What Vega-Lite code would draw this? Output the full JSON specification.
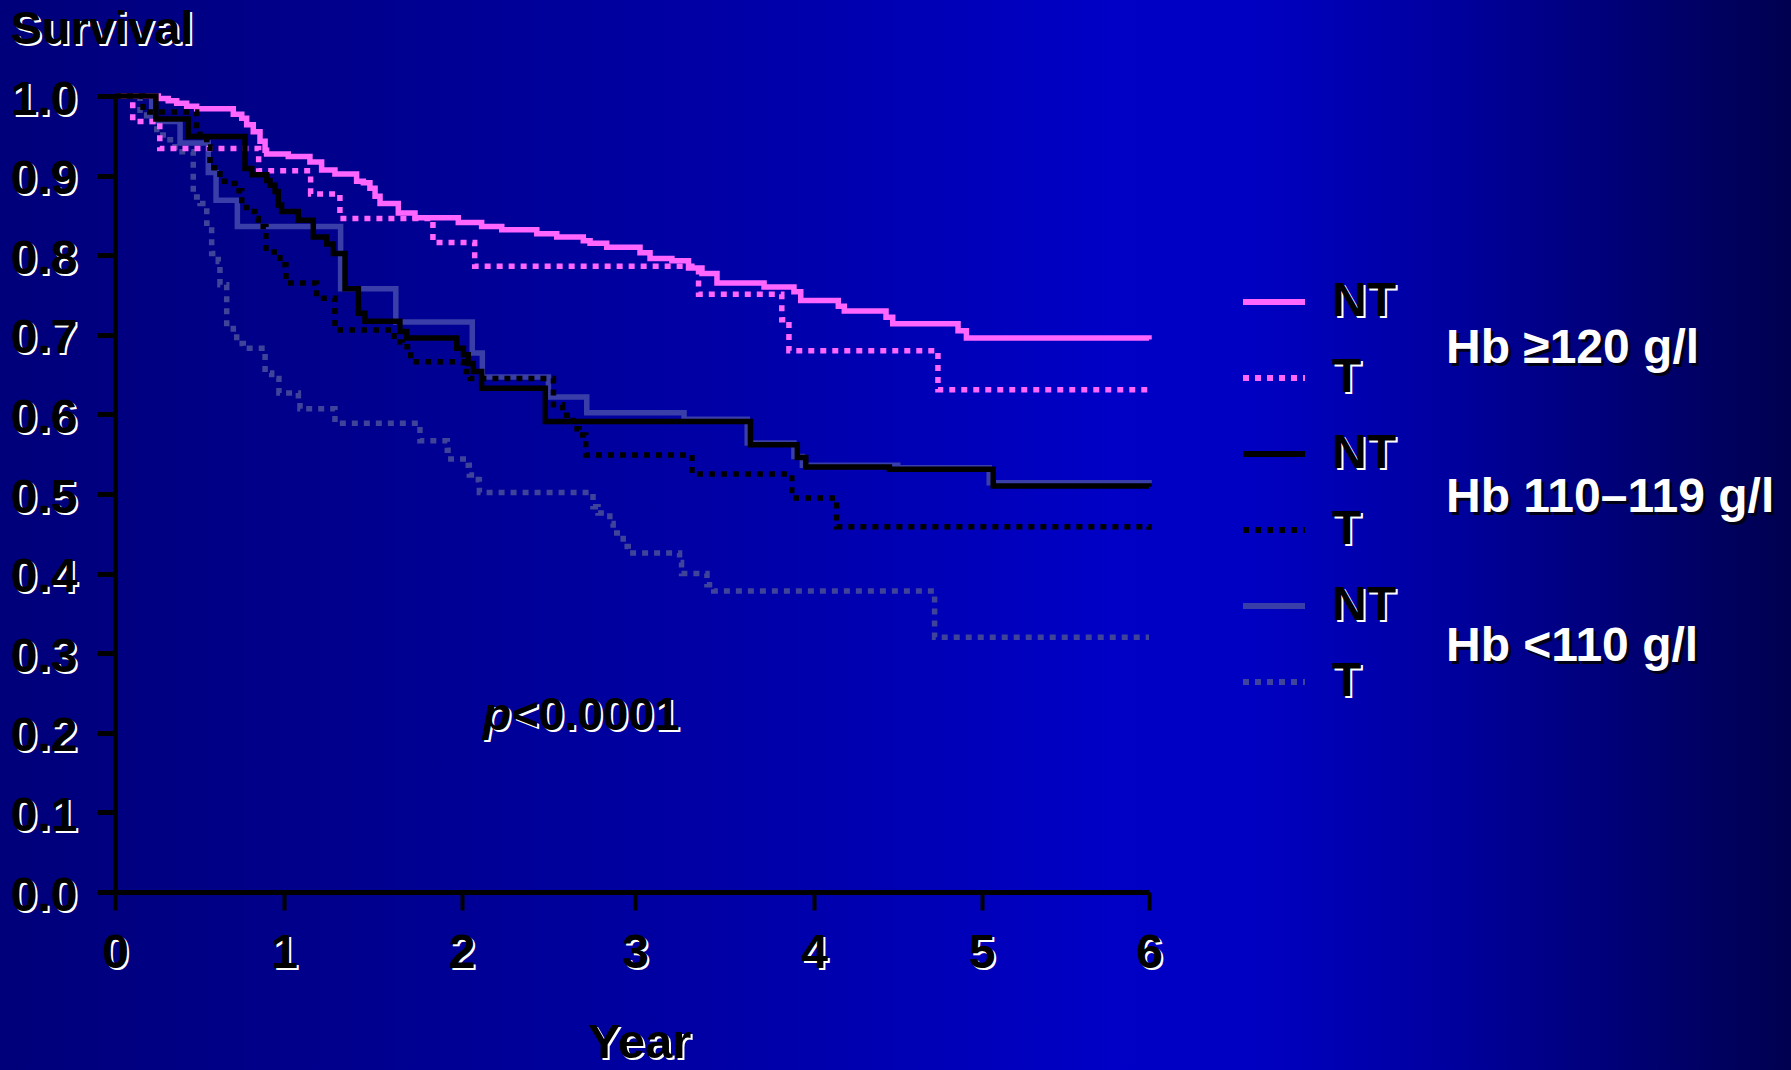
{
  "$schema": "https://vega.github.io/schema/vega-lite/v6.json",
  "width": 1791,
  "height": 1070,
  "autosize": {"type": "none"},
  "padding": 0,
  "background": "#00009a",
  "config": {
    "font": "Liberation Sans",
    "view": {
      "stroke": null,
      "fill": {
        "gradient": "linear", "x1": 0, "y1": 0, "x2": 1, "y2": 0,
        "stops": [
          {"offset": 0, "color": "#00007a"},
          {"offset": 0.2, "color": "#00008e"},
          {"offset": 0.45, "color": "#0000ac"},
          {"offset": 0.62, "color": "#0000c6"},
          {"offset": 0.7, "color": "#0000c2"},
          {"offset": 0.8, "color": "#0000a2"},
          {"offset": 0.9, "color": "#000078"},
          {"offset": 1, "color": "#000050"}
        ]
      }
    }
  },
  "datasets": {
    "km": [
      {"series":"T <110","group":"Hb <110 g/l","t":0,"s":1},
      {"series":"T <110","group":"Hb <110 g/l","t":0.148,"s":0.976},
      {"series":"T <110","group":"Hb <110 g/l","t":0.187,"s":0.968},
      {"series":"T <110","group":"Hb <110 g/l","t":0.247,"s":0.951},
      {"series":"T <110","group":"Hb <110 g/l","t":0.306,"s":0.945},
      {"series":"T <110","group":"Hb <110 g/l","t":0.355,"s":0.930},
      {"series":"T <110","group":"Hb <110 g/l","t":0.463,"s":0.873},
      {"series":"T <110","group":"Hb <110 g/l","t":0.503,"s":0.865},
      {"series":"T <110","group":"Hb <110 g/l","t":0.543,"s":0.840},
      {"series":"T <110","group":"Hb <110 g/l","t":0.572,"s":0.802},
      {"series":"T <110","group":"Hb <110 g/l","t":0.611,"s":0.792},
      {"series":"T <110","group":"Hb <110 g/l","t":0.621,"s":0.763},
      {"series":"T <110","group":"Hb <110 g/l","t":0.661,"s":0.708},
      {"series":"T <110","group":"Hb <110 g/l","t":0.700,"s":0.702},
      {"series":"T <110","group":"Hb <110 g/l","t":0.720,"s":0.689},
      {"series":"T <110","group":"Hb <110 g/l","t":0.759,"s":0.683},
      {"series":"T <110","group":"Hb <110 g/l","t":0.888,"s":0.652},
      {"series":"T <110","group":"Hb <110 g/l","t":0.927,"s":0.645},
      {"series":"T <110","group":"Hb <110 g/l","t":0.970,"s":0.627},
      {"series":"T <110","group":"Hb <110 g/l","t":1.081,"s":0.618},
      {"series":"T <110","group":"Hb <110 g/l","t":1.090,"s":0.607},
      {"series":"T <110","group":"Hb <110 g/l","t":1.287,"s":0.589},
      {"series":"T <110","group":"Hb <110 g/l","t":1.766,"s":0.567},
      {"series":"T <110","group":"Hb <110 g/l","t":1.920,"s":0.555},
      {"series":"T <110","group":"Hb <110 g/l","t":1.940,"s":0.544},
      {"series":"T <110","group":"Hb <110 g/l","t":2.039,"s":0.536},
      {"series":"T <110","group":"Hb <110 g/l","t":2.045,"s":0.524},
      {"series":"T <110","group":"Hb <110 g/l","t":2.097,"s":0.518},
      {"series":"T <110","group":"Hb <110 g/l","t":2.103,"s":0.502},
      {"series":"T <110","group":"Hb <110 g/l","t":2.758,"s":0.484},
      {"series":"T <110","group":"Hb <110 g/l","t":2.787,"s":0.476},
      {"series":"T <110","group":"Hb <110 g/l","t":2.855,"s":0.463},
      {"series":"T <110","group":"Hb <110 g/l","t":2.874,"s":0.451},
      {"series":"T <110","group":"Hb <110 g/l","t":2.932,"s":0.434},
      {"series":"T <110","group":"Hb <110 g/l","t":2.961,"s":0.426},
      {"series":"T <110","group":"Hb <110 g/l","t":3.249,"s":0.414},
      {"series":"T <110","group":"Hb <110 g/l","t":3.260,"s":0.400},
      {"series":"T <110","group":"Hb <110 g/l","t":3.402,"s":0.386},
      {"series":"T <110","group":"Hb <110 g/l","t":3.440,"s":0.378},
      {"series":"T <110","group":"Hb <110 g/l","t":4.720,"s":0.320},
      {"series":"T <110","group":"Hb <110 g/l","t":6,"s":0.320},

      {"series":"NT <110","group":"Hb <110 g/l","t":0,"s":1},
      {"series":"NT <110","group":"Hb <110 g/l","t":0.217,"s":0.968},
      {"series":"NT <110","group":"Hb <110 g/l","t":0.385,"s":0.941},
      {"series":"NT <110","group":"Hb <110 g/l","t":0.552,"s":0.904},
      {"series":"NT <110","group":"Hb <110 g/l","t":0.598,"s":0.869},
      {"series":"NT <110","group":"Hb <110 g/l","t":0.724,"s":0.836},
      {"series":"NT <110","group":"Hb <110 g/l","t":1.319,"s":0.758},
      {"series":"NT <110","group":"Hb <110 g/l","t":1.630,"s":0.716},
      {"series":"NT <110","group":"Hb <110 g/l","t":2.062,"s":0.677},
      {"series":"NT <110","group":"Hb <110 g/l","t":2.120,"s":0.647},
      {"series":"NT <110","group":"Hb <110 g/l","t":2.501,"s":0.622},
      {"series":"NT <110","group":"Hb <110 g/l","t":2.722,"s":0.602},
      {"series":"NT <110","group":"Hb <110 g/l","t":3.274,"s":0.594},
      {"series":"NT <110","group":"Hb <110 g/l","t":3.627,"s":0.564},
      {"series":"NT <110","group":"Hb <110 g/l","t":3.888,"s":0.547},
      {"series":"NT <110","group":"Hb <110 g/l","t":3.935,"s":0.536},
      {"series":"NT <110","group":"Hb <110 g/l","t":4.500,"s":0.533},
      {"series":"NT <110","group":"Hb <110 g/l","t":5.046,"s":0.514},
      {"series":"NT <110","group":"Hb <110 g/l","t":6,"s":0.513},

      {"series":"T ≥120","group":"Hb ≥120 g/l","t":0,"s":1},
      {"series":"T ≥120","group":"Hb ≥120 g/l","t":0.105,"s":0.968},
      {"series":"T ≥120","group":"Hb ≥120 g/l","t":0.265,"s":0.934},
      {"series":"T ≥120","group":"Hb ≥120 g/l","t":0.850,"s":0.906},
      {"series":"T ≥120","group":"Hb ≥120 g/l","t":1.150,"s":0.877},
      {"series":"T ≥120","group":"Hb ≥120 g/l","t":1.315,"s":0.846},
      {"series":"T ≥120","group":"Hb ≥120 g/l","t":1.839,"s":0.816},
      {"series":"T ≥120","group":"Hb ≥120 g/l","t":2.076,"s":0.786},
      {"series":"T ≥120","group":"Hb ≥120 g/l","t":3.355,"s":0.751},
      {"series":"T ≥120","group":"Hb ≥120 g/l","t":3.820,"s":0.719},
      {"series":"T ≥120","group":"Hb ≥120 g/l","t":3.860,"s":0.680},
      {"series":"T ≥120","group":"Hb ≥120 g/l","t":4.740,"s":0.631},
      {"series":"T ≥120","group":"Hb ≥120 g/l","t":6,"s":0.629},

      {"series":"NT ≥120","group":"Hb ≥120 g/l","t":0,"s":1},
      {"series":"NT ≥120","group":"Hb ≥120 g/l","t":0.256,"s":0.997},
      {"series":"NT ≥120","group":"Hb ≥120 g/l","t":0.315,"s":0.994},
      {"series":"NT ≥120","group":"Hb ≥120 g/l","t":0.365,"s":0.991},
      {"series":"NT ≥120","group":"Hb ≥120 g/l","t":0.424,"s":0.987},
      {"series":"NT ≥120","group":"Hb ≥120 g/l","t":0.483,"s":0.984},
      {"series":"NT ≥120","group":"Hb ≥120 g/l","t":0.700,"s":0.977},
      {"series":"NT ≥120","group":"Hb ≥120 g/l","t":0.750,"s":0.972},
      {"series":"NT ≥120","group":"Hb ≥120 g/l","t":0.779,"s":0.964},
      {"series":"NT ≥120","group":"Hb ≥120 g/l","t":0.818,"s":0.955},
      {"series":"NT ≥120","group":"Hb ≥120 g/l","t":0.858,"s":0.943},
      {"series":"NT ≥120","group":"Hb ≥120 g/l","t":0.888,"s":0.932},
      {"series":"NT ≥120","group":"Hb ≥120 g/l","t":0.897,"s":0.927},
      {"series":"NT ≥120","group":"Hb ≥120 g/l","t":1.024,"s":0.924},
      {"series":"NT ≥120","group":"Hb ≥120 g/l","t":1.146,"s":0.917},
      {"series":"NT ≥120","group":"Hb ≥120 g/l","t":1.212,"s":0.907},
      {"series":"NT ≥120","group":"Hb ≥120 g/l","t":1.287,"s":0.902},
      {"series":"NT ≥120","group":"Hb ≥120 g/l","t":1.409,"s":0.893},
      {"series":"NT ≥120","group":"Hb ≥120 g/l","t":1.447,"s":0.891},
      {"series":"NT ≥120","group":"Hb ≥120 g/l","t":1.484,"s":0.884},
      {"series":"NT ≥120","group":"Hb ≥120 g/l","t":1.513,"s":0.874},
      {"series":"NT ≥120","group":"Hb ≥120 g/l","t":1.541,"s":0.865},
      {"series":"NT ≥120","group":"Hb ≥120 g/l","t":1.644,"s":0.853},
      {"series":"NT ≥120","group":"Hb ≥120 g/l","t":1.738,"s":0.847},
      {"series":"NT ≥120","group":"Hb ≥120 g/l","t":1.982,"s":0.841},
      {"series":"NT ≥120","group":"Hb ≥120 g/l","t":2.116,"s":0.836},
      {"series":"NT ≥120","group":"Hb ≥120 g/l","t":2.232,"s":0.832},
      {"series":"NT ≥120","group":"Hb ≥120 g/l","t":2.434,"s":0.827},
      {"series":"NT ≥120","group":"Hb ≥120 g/l","t":2.549,"s":0.823},
      {"series":"NT ≥120","group":"Hb ≥120 g/l","t":2.702,"s":0.818},
      {"series":"NT ≥120","group":"Hb ≥120 g/l","t":2.741,"s":0.815},
      {"series":"NT ≥120","group":"Hb ≥120 g/l","t":2.837,"s":0.810},
      {"series":"NT ≥120","group":"Hb ≥120 g/l","t":3.028,"s":0.803},
      {"series":"NT ≥120","group":"Hb ≥120 g/l","t":3.084,"s":0.796},
      {"series":"NT ≥120","group":"Hb ≥120 g/l","t":3.206,"s":0.793},
      {"series":"NT ≥120","group":"Hb ≥120 g/l","t":3.299,"s":0.784},
      {"series":"NT ≥120","group":"Hb ≥120 g/l","t":3.374,"s":0.777},
      {"series":"NT ≥120","group":"Hb ≥120 g/l","t":3.458,"s":0.765},
      {"series":"NT ≥120","group":"Hb ≥120 g/l","t":3.721,"s":0.760},
      {"series":"NT ≥120","group":"Hb ≥120 g/l","t":3.888,"s":0.754},
      {"series":"NT ≥120","group":"Hb ≥120 g/l","t":3.926,"s":0.743},
      {"series":"NT ≥120","group":"Hb ≥120 g/l","t":4.145,"s":0.736},
      {"series":"NT ≥120","group":"Hb ≥120 g/l","t":4.181,"s":0.730},
      {"series":"NT ≥120","group":"Hb ≥120 g/l","t":4.430,"s":0.722},
      {"series":"NT ≥120","group":"Hb ≥120 g/l","t":4.470,"s":0.714},
      {"series":"NT ≥120","group":"Hb ≥120 g/l","t":4.860,"s":0.705},
      {"series":"NT ≥120","group":"Hb ≥120 g/l","t":4.910,"s":0.696},
      {"series":"NT ≥120","group":"Hb ≥120 g/l","t":6,"s":0.694},

      {"series":"T 110–119","group":"Hb 110–119 g/l","t":0,"s":1},
      {"series":"T 110–119","group":"Hb 110–119 g/l","t":0.166,"s":0.980},
      {"series":"T 110–119","group":"Hb 110–119 g/l","t":0.483,"s":0.952},
      {"series":"T 110–119","group":"Hb 110–119 g/l","t":0.543,"s":0.936},
      {"series":"T 110–119","group":"Hb 110–119 g/l","t":0.562,"s":0.910},
      {"series":"T 110–119","group":"Hb 110–119 g/l","t":0.621,"s":0.893},
      {"series":"T 110–119","group":"Hb 110–119 g/l","t":0.680,"s":0.890},
      {"series":"T 110–119","group":"Hb 110–119 g/l","t":0.710,"s":0.881},
      {"series":"T 110–119","group":"Hb 110–119 g/l","t":0.750,"s":0.860},
      {"series":"T 110–119","group":"Hb 110–119 g/l","t":0.799,"s":0.855},
      {"series":"T 110–119","group":"Hb 110–119 g/l","t":0.828,"s":0.846},
      {"series":"T 110–119","group":"Hb 110–119 g/l","t":0.848,"s":0.836},
      {"series":"T 110–119","group":"Hb 110–119 g/l","t":0.893,"s":0.804},
      {"series":"T 110–119","group":"Hb 110–119 g/l","t":0.976,"s":0.788},
      {"series":"T 110–119","group":"Hb 110–119 g/l","t":1.011,"s":0.765},
      {"series":"T 110–119","group":"Hb 110–119 g/l","t":1.184,"s":0.746},
      {"series":"T 110–119","group":"Hb 110–119 g/l","t":1.287,"s":0.706},
      {"series":"T 110–119","group":"Hb 110–119 g/l","t":1.620,"s":0.691},
      {"series":"T 110–119","group":"Hb 110–119 g/l","t":1.667,"s":0.685},
      {"series":"T 110–119","group":"Hb 110–119 g/l","t":1.714,"s":0.666},
      {"series":"T 110–119","group":"Hb 110–119 g/l","t":2.011,"s":0.654},
      {"series":"T 110–119","group":"Hb 110–119 g/l","t":2.049,"s":0.645},
      {"series":"T 110–119","group":"Hb 110–119 g/l","t":2.530,"s":0.612},
      {"series":"T 110–119","group":"Hb 110–119 g/l","t":2.583,"s":0.599},
      {"series":"T 110–119","group":"Hb 110–119 g/l","t":2.644,"s":0.582},
      {"series":"T 110–119","group":"Hb 110–119 g/l","t":2.678,"s":0.574},
      {"series":"T 110–119","group":"Hb 110–119 g/l","t":2.716,"s":0.549},
      {"series":"T 110–119","group":"Hb 110–119 g/l","t":3.318,"s":0.525},
      {"series":"T 110–119","group":"Hb 110–119 g/l","t":3.876,"s":0.495},
      {"series":"T 110–119","group":"Hb 110–119 g/l","t":4.135,"s":0.459},
      {"series":"T 110–119","group":"Hb 110–119 g/l","t":6,"s":0.455},

      {"series":"NT 110–119","group":"Hb 110–119 g/l","t":0,"s":1},
      {"series":"NT 110–119","group":"Hb 110–119 g/l","t":0.242,"s":0.971},
      {"series":"NT 110–119","group":"Hb 110–119 g/l","t":0.434,"s":0.949},
      {"series":"NT 110–119","group":"Hb 110–119 g/l","t":0.769,"s":0.909},
      {"series":"NT 110–119","group":"Hb 110–119 g/l","t":0.809,"s":0.901},
      {"series":"NT 110–119","group":"Hb 110–119 g/l","t":0.898,"s":0.894},
      {"series":"NT 110–119","group":"Hb 110–119 g/l","t":0.917,"s":0.888},
      {"series":"NT 110–119","group":"Hb 110–119 g/l","t":0.947,"s":0.880},
      {"series":"NT 110–119","group":"Hb 110–119 g/l","t":0.966,"s":0.863},
      {"series":"NT 110–119","group":"Hb 110–119 g/l","t":0.986,"s":0.855},
      {"series":"NT 110–119","group":"Hb 110–119 g/l","t":1.081,"s":0.844},
      {"series":"NT 110–119","group":"Hb 110–119 g/l","t":1.165,"s":0.823},
      {"series":"NT 110–119","group":"Hb 110–119 g/l","t":1.240,"s":0.814},
      {"series":"NT 110–119","group":"Hb 110–119 g/l","t":1.278,"s":0.802},
      {"series":"NT 110–119","group":"Hb 110–119 g/l","t":1.344,"s":0.758},
      {"series":"NT 110–119","group":"Hb 110–119 g/l","t":1.419,"s":0.727},
      {"series":"NT 110–119","group":"Hb 110–119 g/l","t":1.456,"s":0.717},
      {"series":"NT 110–119","group":"Hb 110–119 g/l","t":1.653,"s":0.704},
      {"series":"NT 110–119","group":"Hb 110–119 g/l","t":1.691,"s":0.696},
      {"series":"NT 110–119","group":"Hb 110–119 g/l","t":1.973,"s":0.683},
      {"series":"NT 110–119","group":"Hb 110–119 g/l","t":2.011,"s":0.675},
      {"series":"NT 110–119","group":"Hb 110–119 g/l","t":2.039,"s":0.664},
      {"series":"NT 110–119","group":"Hb 110–119 g/l","t":2.068,"s":0.654},
      {"series":"NT 110–119","group":"Hb 110–119 g/l","t":2.116,"s":0.633},
      {"series":"NT 110–119","group":"Hb 110–119 g/l","t":2.483,"s":0.591},
      {"series":"NT 110–119","group":"Hb 110–119 g/l","t":3.645,"s":0.562},
      {"series":"NT 110–119","group":"Hb 110–119 g/l","t":3.907,"s":0.546},
      {"series":"NT 110–119","group":"Hb 110–119 g/l","t":3.954,"s":0.534},
      {"series":"NT 110–119","group":"Hb 110–119 g/l","t":4.450,"s":0.531},
      {"series":"NT 110–119","group":"Hb 110–119 g/l","t":5.070,"s":0.510},
      {"series":"NT 110–119","group":"Hb 110–119 g/l","t":6,"s":0.509}
    ],
    "one": [{}],
    "legrows": [
      {"lab":"NT-a"},{"lab":"T-a"},{"lab":"NT-b"},{"lab":"T-b"},{"lab":"NT-c"},{"lab":"T-c"}
    ],
    "grprows": [
      {"grp":"A"},{"grp":"B"},{"grp":"C"}
    ]
  },
  "data": {"name": "km"},
  "layer": [
    {
      "mark": {"type": "line", "opacity": 0, "interpolate": "step-after"},
      "encoding": {
        "x": {
          "field": "t", "type": "quantitative",
          "scale": {"domain": [0,1,2,3,4,5,6], "range": [115,284,461.5,635,814,981.5,1149], "nice": false, "zero": false},
          "axis": {
            "orient": "bottom", "offset": -178, "values": [0,1,2,3,4,5,6], "format": "d",
            "domain": false, "ticks": true, "tickOpacity": 0, "tickSize": 18, "grid": false,
            "labelFont": "Liberation Sans", "labelFontWeight": "bold", "labelFontSize": 48,
            "labelColor": "white", "labelPadding": 21, "labelOffset": 2, "labelFlush": false, "labelOverlap": false,
            "title": "Year", "titleFont": "Liberation Sans", "titleFontWeight": "bold", "titleFontSize": 49,
            "titleColor": "white", "titleX": 641, "titleY": 167, "titleAlign": "center", "titleBaseline": "alphabetic",
            "zindex": 0
          }
        },
        "y": {
          "field": "s", "type": "quantitative",
          "scale": {"domain": [0,1], "range": [892,96], "nice": false, "zero": false},
          "axis": {
            "orient": "left", "offset": -115, "values": [0,0.1,0.2,0.3,0.4,0.5,0.6,0.7,0.8,0.9,1], "format": ".1f",
            "domain": false, "ticks": true, "tickOpacity": 0, "tickSize": 18, "grid": false,
            "labelFont": "Liberation Sans", "labelFontWeight": "bold", "labelFontSize": 48,
            "labelColor": "white", "labelPadding": 18, "labelOffset": 6, "labelFlush": false, "labelOverlap": false,
            "title": "Survival", "titleFont": "Liberation Sans", "titleFontWeight": "bold", "titleFontSize": 47,
            "titleColor": "white", "titleAngle": 0, "titleX": -103, "titleY": 45, "titleAlign": "left", "titleBaseline": "alphabetic",
            "zindex": 0
          }
        },
        "detail": {"field": "series"}
      }
    },
    {
      "mark": {"type": "line", "interpolate": "step-after", "strokeWidth": 5.5, "strokeCap": "butt", "strokeJoin": "miter"},
      "encoding": {
        "x": {
          "field": "t", "type": "quantitative",
          "scale": {"domain": [0,1,2,3,4,5,6], "range": [115,284,461.5,635,814,981.5,1149], "nice": false, "zero": false},
          "axis": {
            "orient": "bottom", "offset": -178, "values": [0,1,2,3,4,5,6], "format": "d",
            "domain": true, "domainColor": "black", "domainWidth": 5,
            "ticks": true, "tickColor": "black", "tickWidth": 4, "tickSize": 18, "grid": false,
            "labelFont": "Liberation Sans", "labelFontWeight": "bold", "labelFontSize": 48,
            "labelColor": "black", "labelPadding": 19, "labelOffset": 0, "labelFlush": false, "labelOverlap": false,
            "title": "Year", "titleFont": "Liberation Sans", "titleFontWeight": "bold", "titleFontSize": 49,
            "titleColor": "black", "titleX": 639, "titleY": 165, "titleAlign": "center", "titleBaseline": "alphabetic",
            "zindex": 1
          }
        },
        "y": {
          "field": "s", "type": "quantitative",
          "scale": {"domain": [0,1], "range": [892,96], "nice": false, "zero": false},
          "axis": {
            "orient": "left", "offset": -115, "values": [0,0.1,0.2,0.3,0.4,0.5,0.6,0.7,0.8,0.9,1], "format": ".1f",
            "domain": true, "domainColor": "black", "domainWidth": 5,
            "ticks": true, "tickColor": "black", "tickWidth": 5, "tickSize": 18, "grid": false,
            "labelFont": "Liberation Sans", "labelFontWeight": "bold", "labelFontSize": 48,
            "labelColor": "black", "labelPadding": 20, "labelOffset": 4, "labelFlush": false, "labelOverlap": false,
            "title": "Survival", "titleFont": "Liberation Sans", "titleFontWeight": "bold", "titleFontSize": 47,
            "titleColor": "black", "titleAngle": 0, "titleX": -105, "titleY": 43, "titleAlign": "left", "titleBaseline": "alphabetic",
            "zindex": 1
          }
        },
        "color": {
          "field": "series", "type": "nominal",
          "scale": {
            "domain": ["NT ≥120","T ≥120","NT 110–119","T 110–119","NT <110","T <110"],
            "range": ["#ff66ff","#ff66ff","#000000","#000000","#3a3ea8","#3f4399"]
          },
          "legend": {
            "title": null, "orient": "none", "legendX": 1240, "legendY": 268, "direction": "vertical",
            "symbolType": "stroke", "symbolSize": 3844, "symbolStrokeWidth": 6,
            "labelFont": "Liberation Sans", "labelFontWeight": "bold", "labelFontSize": 48, "labelColor": "black",
            "labelOffset": 24, "rowPadding": 18, "padding": 0, "labelLimit": 0,
            "labelExpr": "split(datum.label, ' ')[0]", "zindex": 1
          }
        },
        "strokeDash": {
          "field": "series", "type": "nominal",
          "scale": {
            "domain": ["NT ≥120","T ≥120","NT 110–119","T 110–119","NT <110","T <110"],
            "range": [[1,0],[6,6],[1,0],[6,6],[1,0],[6,6]]
          },
          "legend": {
            "title": null, "orient": "none", "legendX": 1240, "legendY": 268, "direction": "vertical",
            "symbolType": "stroke", "symbolSize": 3844, "symbolStrokeWidth": 6,
            "labelFont": "Liberation Sans", "labelFontWeight": "bold", "labelFontSize": 48, "labelColor": "black",
            "labelOffset": 24, "rowPadding": 18, "padding": 0, "labelLimit": 0,
            "labelExpr": "split(datum.label, ' ')[0]", "zindex": 1
          }
        }
      }
    },
    {
      "data": {"name": "legrows"},
      "mark": {"type": "point", "opacity": 0},
      "encoding": {
        "x": {"datum": 0, "type": "quantitative", "axis": null,
          "scale": {"domain": [0,1,2,3,4,5,6], "range": [115,284,461.5,635,814,981.5,1149], "nice": false, "zero": false}},
        "y": {"datum": 1, "type": "quantitative", "axis": null,
          "scale": {"domain": [0,1], "range": [892,96], "nice": false, "zero": false}},
        "fill": {
          "field": "lab", "type": "nominal",
          "scale": {"domain": ["NT-a","T-a","NT-b","T-b","NT-c","T-c"], "range": ["white","white","white","white","white","white"]},
          "legend": {
            "title": null, "orient": "none", "legendX": 1242, "legendY": 270, "direction": "vertical",
            "symbolType": "stroke", "symbolSize": 3844, "symbolStrokeWidth": 6, "symbolOpacity": 0,
            "labelFont": "Liberation Sans", "labelFontWeight": "bold", "labelFontSize": 48, "labelColor": "white",
            "labelOffset": 24, "rowPadding": 18, "padding": 0, "labelLimit": 0,
            "labelExpr": "split(datum.label, '-')[0]", "zindex": 0
          }
        }
      }
    },
    {
      "data": {"name": "grprows"},
      "mark": {"type": "point", "opacity": 0},
      "encoding": {
        "x": {"datum": 0, "type": "quantitative", "axis": null,
          "scale": {"domain": [0,1,2,3,4,5,6], "range": [115,284,461.5,635,814,981.5,1149], "nice": false, "zero": false}},
        "y": {"datum": 1, "type": "quantitative", "axis": null,
          "scale": {"domain": [0,1], "range": [892,96], "nice": false, "zero": false}},
        "stroke": {
          "field": "grp", "type": "nominal",
          "scale": {"domain": ["A","B","C"], "range": ["black","black","black"]},
          "legend": {
            "title": null, "orient": "none", "legendX": 1401, "legendY": 328, "direction": "vertical",
            "symbolOpacity": 0, "symbolSize": 1, "symbolStrokeWidth": 0,
            "labelFont": "Liberation Sans", "labelFontWeight": "bold", "labelFontSize": 48, "labelColor": "#000018",
            "labelOffset": 0, "rowPadding": 101, "padding": 0, "labelLimit": 0, "zindex": 0,
            "labelExpr": "datum.label == 'A' ? 'Hb ≥120 g/l' : datum.label == 'B' ? 'Hb 110–119 g/l' : 'Hb <110 g/l'"
          }
        }
      }
    },
    {
      "mark": {"type": "point", "opacity": 0},
      "encoding": {
        "x": {"field": "t", "type": "quantitative", "axis": null,
          "scale": {"domain": [0,1,2,3,4,5,6], "range": [115,284,461.5,635,814,981.5,1149], "nice": false, "zero": false}},
        "y": {"field": "s", "type": "quantitative", "axis": null,
          "scale": {"domain": [0,1], "range": [892,96], "nice": false, "zero": false}},
        "shape": {
          "field": "group", "type": "nominal",
          "scale": {"domain": ["Hb ≥120 g/l","Hb 110–119 g/l","Hb <110 g/l"], "range": ["circle","circle","circle"]},
          "legend": {
            "title": null, "orient": "none", "legendX": 1398, "legendY": 325, "direction": "vertical",
            "symbolOpacity": 0, "symbolSize": 1, "symbolStrokeWidth": 0,
            "labelFont": "Liberation Sans", "labelFontWeight": "bold", "labelFontSize": 48, "labelColor": "white",
            "labelOffset": 0, "rowPadding": 101, "padding": 0, "labelLimit": 0, "zindex": 1
          }
        }
      }
    },
    {
      "data": {"name": "one"},
      "mark": {"type": "text", "text": "p", "font": "Liberation Sans", "fontWeight": "bold", "fontStyle": "italic", "fontSize": 46, "align": "left", "baseline": "alphabetic", "color": "white", "dx": 2, "dy": 2},
      "encoding": {
        "x": {"datum": 2.124, "type": "quantitative", "axis": null,
          "scale": {"domain": [0,1,2,3,4,5,6], "range": [115,284,461.5,635,814,981.5,1149], "nice": false, "zero": false}},
        "y": {"datum": 0.2035, "type": "quantitative", "axis": null,
          "scale": {"domain": [0,1], "range": [892,96], "nice": false, "zero": false}}
      }
    },
    {
      "data": {"name": "one"},
      "mark": {"type": "text", "text": "<0.0001", "font": "Liberation Sans", "fontWeight": "bold", "fontSize": 46, "align": "left", "baseline": "alphabetic", "color": "white", "dx": 2, "dy": 2},
      "encoding": {
        "x": {"datum": 2.291, "type": "quantitative", "axis": null,
          "scale": {"domain": [0,1,2,3,4,5,6], "range": [115,284,461.5,635,814,981.5,1149], "nice": false, "zero": false}},
        "y": {"datum": 0.2035, "type": "quantitative", "axis": null,
          "scale": {"domain": [0,1], "range": [892,96], "nice": false, "zero": false}}
      }
    },
    {
      "data": {"name": "one"},
      "mark": {"type": "text", "text": "p", "font": "Liberation Sans", "fontWeight": "bold", "fontStyle": "italic", "fontSize": 46, "align": "left", "baseline": "alphabetic", "color": "black"},
      "encoding": {
        "x": {"datum": 2.124, "type": "quantitative", "axis": null,
          "scale": {"domain": [0,1,2,3,4,5,6], "range": [115,284,461.5,635,814,981.5,1149], "nice": false, "zero": false}},
        "y": {"datum": 0.2035, "type": "quantitative", "axis": null,
          "scale": {"domain": [0,1], "range": [892,96], "nice": false, "zero": false}}
      }
    },
    {
      "data": {"name": "one"},
      "mark": {"type": "text", "text": "<0.0001", "font": "Liberation Sans", "fontWeight": "bold", "fontSize": 46, "align": "left", "baseline": "alphabetic", "color": "black"},
      "encoding": {
        "x": {"datum": 2.291, "type": "quantitative", "axis": null,
          "scale": {"domain": [0,1,2,3,4,5,6], "range": [115,284,461.5,635,814,981.5,1149], "nice": false, "zero": false}},
        "y": {"datum": 0.2035, "type": "quantitative", "axis": null,
          "scale": {"domain": [0,1], "range": [892,96], "nice": false, "zero": false}}
      }
    }
  ],
  "resolve": {"axis": {"x": "independent", "y": "independent"}}
}
